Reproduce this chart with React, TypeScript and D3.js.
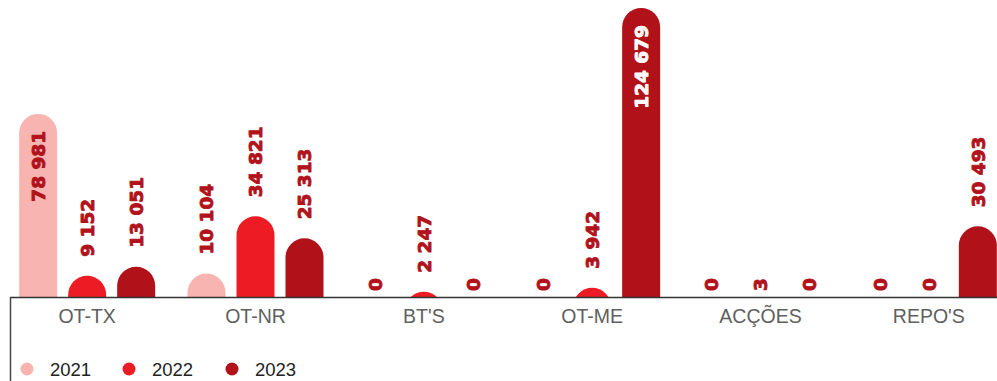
import React from "react";
import * as d3 from "d3";

const categories = ["OT-TX", "OT-NR", "BT'S", "OT-ME", "ACÇÕES", "REPO'S"];
const years = ["2021", "2022", "2023"];
const values2021 = [78981, 10104, 0, 0, 0, 0];
const values2022 = [9152, 34821, 2247, 3942, 3, 0];
const values2023 = [13051, 25313, 0, 124679, 0, 30493];
const seriesColors = ["#f8b4b1", "#ed1c24", "#b11119"];

const W = 997;
const H = 381;
const baseY = 297;
const topY = 8;
const labelColor = "#b1121b";

export default function App() {
  const series = [values2021, values2022, values2023];
  const maxV = d3.max(series.flat()) as number;
  const y = d3.scaleLinear().domain([0, maxV]).range([baseY, topY]);
  const x0 = d3.scaleBand<string>().domain(categories).range([3, 1013]).paddingInner(0).paddingOuter(0);
  const x1 = d3
    .scaleBand<string>()
    .domain(years)
    .range([0, x0.bandwidth()])
    .paddingInner(11 / 49)
    .paddingOuter(0.33);
  const bw = x1.bandwidth();
  const r = bw / 2;
  const fmt = (v: number) => d3.format(",")(v).replace(/,/g, " ");

  const bars: React.ReactNode[] = [];
  const labels: React.ReactNode[] = [];
  categories.forEach((c, ci) => {
    years.forEach((yr, si) => {
      const v = series[si][ci];
      const bx = (x0(c) as number) + (x1(yr) as number);
      const cx = bx + r;
      const yt = y(v);
      if (v > 0) {
        const bottom = Math.max(baseY, yt + r);
        const p = d3.path();
        p.moveTo(bx, yt + r);
        p.arc(cx, yt + r, r, Math.PI, 0);
        p.lineTo(bx + bw, bottom);
        p.lineTo(bx, bottom);
        p.closePath();
        bars.push(<path key={`b${ci}-${si}`} d={p.toString()} fill={seriesColors[si]} />);
      }
      const inside = v > maxV * 0.5;
      const tiny = baseY - yt < 1;
      let ly: number;
      let anchor: string;
      let color = labelColor;
      if (inside) {
        ly = yt + 17;
        anchor = "end";
        if (si === 2) color = "#ffffff";
      } else {
        ly = yt - (tiny ? 6 : 19);
        anchor = "start";
      }
      labels.push(
        <text
          key={`l${ci}-${si}`}
          transform={`translate(${cx},${ly}) rotate(-90)`}
          textAnchor={anchor}
          dy="0.36em"
          fontFamily="'DejaVu Sans', sans-serif"
          fontWeight="bold"
          fontSize={18.5}
          fill={color}
          stroke={color}
          strokeWidth={0.9}
          strokeLinejoin="round"
        >
          {fmt(v)}
        </text>
      );
    });
  });

  const legendX = [27, 129, 232];

  return (
    <svg width={W} height={H} style={{ position: "absolute", left: 0, top: 0 }}>
      <defs>
        <clipPath id="plotClip">
          <rect x={0} y={0} width={W} height={baseY} />
        </clipPath>
      </defs>
      <g clipPath="url(#plotClip)">{bars}</g>
      {labels}
      <line x1={10} x2={W} y1={baseY + 0.5} y2={baseY + 0.5} stroke="#333" strokeWidth={1.5} />
      <line x1={10.5} x2={10.5} y1={baseY} y2={H} stroke="#444" strokeWidth={1.5} />
      {categories.map((c) => (
        <text
          key={c}
          x={(x0(c) as number) + x0.bandwidth() / 2}
          y={323}
          textAnchor="middle"
          fontFamily="'Liberation Sans', Arial, sans-serif"
          fontSize={19.5}
          fill="#606060"
        >
          {c}
        </text>
      ))}
      {years.map((yr, i) => (
        <g key={yr}>
          <circle cx={legendX[i]} cy={369} r={6.5} fill={seriesColors[i]} />
          <text
            x={legendX[i] + 23}
            y={376}
            fontFamily="'Liberation Sans', Arial, sans-serif"
            fontSize={18.5}
            fill="#222"
          >
            {yr}
          </text>
        </g>
      ))}
    </svg>
  );
}
